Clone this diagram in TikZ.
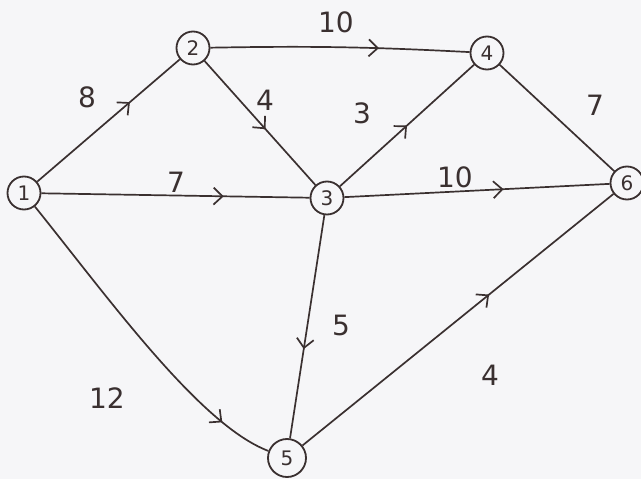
\documentclass[tikz,border=0pt]{standalone}
\usepackage{fontspec}
\setmainfont{DejaVu Sans}
\usetikzlibrary{arrows.meta,decorations.markings}
\definecolor{ink}{HTML}{3A3030}
\definecolor{paper}{HTML}{F6F6F8}
\tikzset{
  vert/.style={circle,draw=ink,line width=1.8pt,minimum size=33pt,inner sep=0pt,font=\fontsize{20}{20}\selectfont,text=ink},
  edge/.style={draw=ink,line width=1.7pt},
  mid/.style={postaction={decorate},decoration={markings,mark=at position #1 with {\arrow[ink,line width=1.7pt]{Straight Barb[length=9pt,width=17pt]}}}},
  wt/.style={text=ink,font=\fontsize{28}{28}\selectfont,inner sep=0pt}
}
\begin{document}
\begin{tikzpicture}[x=1pt,y=-1pt]
\fill[paper] (0,0) rectangle (641,479);
\useasboundingbox (0,0) rectangle (641,479);
\node[vert] (n1) at (24,193) {1};
\node[vert] (n2) at (193,48) {2};
\node[vert] (n4) at (487,53) {4};
\node[vert] (n3) at (327,198) {3};
\node[vert] (n6) at (627,183) {6};
\node[vert,minimum width=38pt,minimum height=36pt] (n5) at (287,458) {5};

\draw[edge,mid=0.65] (n1) -- (n2);
\draw[edge,mid=0.65] (n2) to[bend left=2] (n4);
\draw[edge,mid=0.55] (n2) -- (n3);
\draw[edge,mid=0.68] (n1) -- (n3);
\draw[edge,mid=0.5] (n3) -- (n4);
\draw[edge,mid=0.6] (n3) -- (n6);
\draw[edge] (n4) -- (n6);
\draw[edge,mid=0.6] (n3) -- (n5);
\draw[edge,mid=0.84] (n1) .. controls (110,300) and (200,425) .. (n5);
\draw[edge,mid=0.6] (n5) -- (n6);

\node[wt] (w24) at (336,22) {10};
\node[wt] (w12) at (87,97) {8};
\node[wt] (w23) at (265,100) {4};
\node[wt] (w13) at (176,182) {7};
\node[wt] (w34) at (362,113) {3};
\node[wt] (w36) at (455,177) {10};
\node[wt] (w46) at (595,105) {7};
\node[wt] (w35) at (341,325) {5};
\node[wt] (w56) at (490,375) {4};
\node[wt] (w15) at (107,398) {12};
\end{tikzpicture}
\end{document}
